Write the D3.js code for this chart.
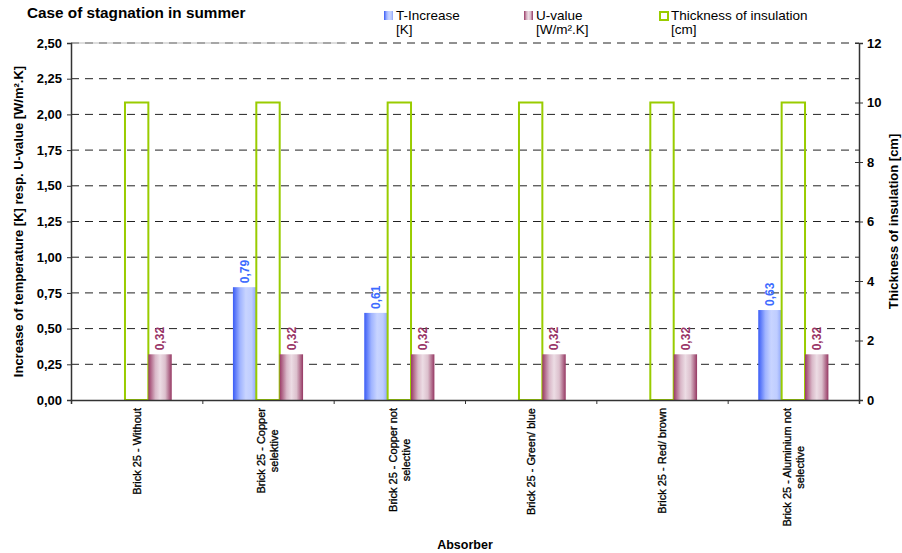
<!DOCTYPE html>
<html>
<head>
<meta charset="utf-8">
<script src="https://cdn.jsdelivr.net/npm/d3@7"></script>
<style>
  html, body { margin: 0; padding: 0; background: #fff; }
  svg { display: block; font-family: Arial, "Liberation Sans", sans-serif; }
</style>
</head>
<body>
<svg id="chart" width="902" height="553"></svg>
<script>
// Absorber variants (each label split into its display lines)
const categories = [
  ["Brick 25 - Without"],
  ["Brick 25 - Copper", "selektive"],
  ["Brick 25 - Copper not", "selective"],
  ["Brick 25 - Green/ blue"],
  ["Brick 25 - Red/ brown"],
  ["Brick 25 - Aluminium not", "selective"]
];
const tIncrease = [null, 0.79, 0.61, null, null, 0.63];      // [K]
const uValue = [0.32, 0.32, 0.32, 0.32, 0.32, 0.32];          // [W/m².K]
const thickness = [10, 10, 10, 10, 10, 10];                   // [cm]
const leftTicks = [0, 0.25, 0.5, 0.75, 1, 1.25, 1.5, 1.75, 2, 2.25, 2.5];
const rightTicks = [0, 2, 4, 6, 8, 10, 12];

const svg = d3.select("#chart");
const margin = { top: 43, right: 43, bottom: 153, left: 71 };
const W = 902, H = 553;
const x0 = margin.left, x1 = W - margin.right;
const y0 = H - margin.bottom, y1 = margin.top;

const locale = d3.formatLocale({ decimal: ",", thousands: ".", grouping: [3], currency: ["", ""] });
const fmt2 = locale.format(".2f");

const keys = categories.map((c, i) => i);
const x = d3.scaleBand().domain(keys).range([x0, x1]).padding(0);
const yL = d3.scaleLinear().domain([0, 2.5]).range([y0, y1]);
const yR = d3.scaleLinear().domain([0, 12]).range([y0, y1]);
const bw = x.bandwidth() * 0.178;

// gradients for the bar fills
const defs = svg.append("defs");
function grad(id, stops) {
  const g = defs.append("linearGradient").attr("id", id).attr("x1", 0).attr("x2", 1).attr("y1", 0).attr("y2", 0);
  stops.forEach(([o, c]) => g.append("stop").attr("offset", o).attr("stop-color", c));
}
grad("gBlue", [[0, "#3a5cf6"], [0.3, "#9fb3ff"], [0.55, "#c8d4ff"], [0.8, "#bfcdff"], [1, "#8fa5fb"]]);
grad("gPink", [[0, "#9a3a66"], [0.3, "#d9b8c8"], [0.5, "#ecdce4"], [0.72, "#dcc0cd"], [1, "#953762"]]);

// horizontal dashed gridlines from the left axis
svg.append("g").selectAll("line").data(leftTicks.filter(d => d > 0)).join("line")
  .attr("x1", x0).attr("x2", x1)
  .attr("y1", d => yL(d)).attr("y2", d => yL(d))
  .attr("stroke", "#222").attr("stroke-width", 1)
  .attr("stroke-dasharray", "8,6");
svg.append("line")
  .attr("x1", x0).attr("x2", x0 + (x1 - x0) * 0.35)
  .attr("y1", yL(2.5)).attr("y2", yL(2.5))
  .attr("stroke", "#bbb").attr("stroke-width", 1);

// T-Increase bars
svg.append("g").selectAll("rect").data(tIncrease.map((v, i) => ({ v, i })).filter(d => d.v != null)).join("rect")
  .attr("x", d => x(d.i) + x.bandwidth() / 2 - 1.5 * bw)
  .attr("width", bw)
  .attr("y", d => yL(d.v))
  .attr("height", d => y0 - yL(d.v))
  .attr("fill", "url(#gBlue)");

// Thickness of insulation (outlined bars, right axis)
svg.append("g").selectAll("rect").data(thickness.map((v, i) => ({ v, i }))).join("rect")
  .attr("x", d => x(d.i) + x.bandwidth() / 2 - 0.5 * bw)
  .attr("width", bw)
  .attr("y", d => yR(d.v))
  .attr("height", d => y0 - yR(d.v))
  .attr("fill", "none")
  .attr("stroke", "#99cc00").attr("stroke-width", 2);

// U-value bars
svg.append("g").selectAll("rect").data(uValue.map((v, i) => ({ v, i }))).join("rect")
  .attr("x", d => x(d.i) + x.bandwidth() / 2 + 0.5 * bw)
  .attr("width", bw)
  .attr("y", d => yL(d.v))
  .attr("height", d => y0 - yL(d.v))
  .attr("fill", "url(#gPink)");

// value labels (rotated)
function valueLabels(data, offset, color) {
  svg.append("g").selectAll("text").data(data.map((v, i) => ({ v, i })).filter(d => d.v != null)).join("text")
    .attr("transform", d => `translate(${x(d.i) + x.bandwidth() / 2 + offset * bw},${yL(d.v) - 4}) rotate(-90)`)
    .attr("dy", "0.36em")
    .attr("font-size", 12).attr("font-weight", "bold")
    .attr("fill", color)
    .text(d => fmt2(d.v));
}
valueLabels(tIncrease, -1, "#3d6bff");
valueLabels(uValue, 1, "#993366");

// axes
const axisColor = "#333";
const gl = svg.append("g").attr("transform", `translate(${x0},0)`)
  .call(d3.axisLeft(yL).tickValues(leftTicks).tickFormat(fmt2).tickSizeOuter(0).tickSize(4).tickPadding(5));
const gr = svg.append("g").attr("transform", `translate(${x1},0)`)
  .call(d3.axisRight(yR).tickValues(rightTicks).tickSizeOuter(0).tickSize(4).tickPadding(4));
gr.selectAll(".tick line").attr("x1", -4);
const gx = svg.append("g").attr("transform", `translate(0,${y0})`)
  .call(d3.axisBottom(d3.scaleLinear().domain([0, categories.length]).range([x0, x1]))
    .tickValues(d3.range(1, categories.length)).tickFormat("").tickSizeOuter(0).tickSize(4));
[gl, gr, gx].forEach(g => {
  g.select(".domain").attr("stroke", axisColor).attr("stroke-width", 1.5);
  g.selectAll(".tick line").attr("stroke", axisColor);
  g.selectAll(".tick text").attr("font-size", 13).attr("font-weight", "bold").attr("fill", "#000")
    .attr("font-family", "Arial, 'Liberation Sans', sans-serif");
});

// category labels, rotated, lines centred on each other
const labFont = 11, labLH = 13;
categories.forEach((lines, i) => {
  const g = svg.append("g").attr("transform", `translate(${x(i) + x.bandwidth() / 2},${y0 + 8}) rotate(-90)`);
  const texts = lines.map((s, j) => g.append("text")
    .attr("font-size", labFont).attr("fill", "#000")
    .attr("stroke", "#000").attr("stroke-width", 0.3)
    .attr("y", (j - (lines.length - 1) / 2) * labLH)
    .attr("dy", "0.35em")
    .text(s));
  const L = d3.max(texts, t => t.node().getComputedTextLength());
  texts.forEach(t => t.attr("text-anchor", "middle").attr("x", -L / 2));
});

// titles
svg.append("text").attr("x", 27).attr("y", 18)
  .attr("font-size", 15.3).attr("font-weight", "bold").text("Case of stagnation in summer");
svg.append("text").attr("x", (x0 + x1) / 2).attr("y", 549).attr("text-anchor", "middle")
  .attr("font-size", 12.5).attr("font-weight", "bold").text("Absorber");
svg.append("text").attr("transform", `translate(18,${(y0 + y1) / 2}) rotate(-90)`).attr("text-anchor", "middle")
  .attr("dy", "0.35em")
  .attr("font-size", 13).attr("font-weight", "bold").text("Increase of temperature [K] resp. U-value [W/m².K]");
svg.append("text").attr("transform", `translate(893,${(y0 + y1) / 2}) rotate(-90)`).attr("text-anchor", "middle")
  .attr("dy", "0.35em")
  .attr("font-size", 13).attr("font-weight", "bold").text("Thickness of insulation [cm]");

// legend
const legend = [
  { lines: ["T-Increase", "[K]"], x: 384, type: "blue" },
  { lines: ["U-value", "[W/m².K]"], x: 524, type: "pink" },
  { lines: ["Thickness of insulation", "[cm]"], x: 659, type: "green" }
];
legend.forEach(l => {
  const g = svg.append("g").attr("transform", `translate(${l.x},11)`);
  if (l.type === "green") {
    g.append("rect").attr("x", 1).attr("y", 1).attr("width", 8).attr("height", 8)
      .attr("fill", "none").attr("stroke", "#99cc00").attr("stroke-width", 2);
  } else {
    g.append("rect").attr("width", 9).attr("height", 9)
      .attr("fill", l.type === "blue" ? "url(#gBlue)" : "url(#gPink)");
  }
  l.lines.forEach((s, j) => g.append("text").attr("x", 12).attr("y", 9 + j * 14)
    .attr("font-size", 13.5).attr("fill", "#000").text(s));
});
</script>
</body>
</html>
